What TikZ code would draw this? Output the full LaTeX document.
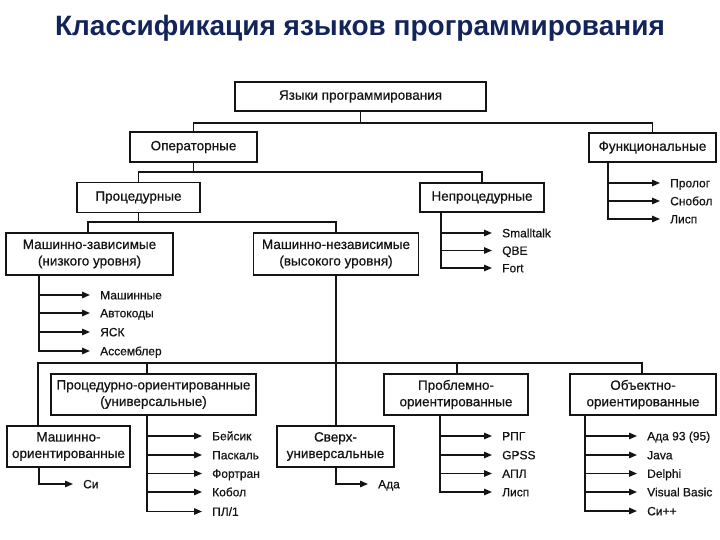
\documentclass[tikz,border=0pt]{standalone}
\usepackage{fontspec}
\setmainfont{Liberation Sans}
\newfontfamily\heavy[FakeBold=0.6]{Liberation Sans}
\usetikzlibrary{arrows.meta}
\definecolor{titleblue}{HTML}{13245A}
\definecolor{ink}{HTML}{141414}
\begin{document}
\begin{tikzpicture}[x=1pt,y=-1pt,
  box/.style={draw=ink, line width=1.4pt, inner sep=0pt, align=center,
    font=\heavy\fontsize{13.5}{16.5}\selectfont, text=ink},
  item/.style={anchor=west, inner xsep=10pt, inner ysep=0pt, text height=8.6pt,
    text depth=0pt, font=\heavy\fontsize{12}{14}\selectfont, text=ink},
  conn/.style={draw=ink, line width=1.4pt},
  arr/.style={conn, -{Triangle[length=8pt,width=6.5pt]}}]
\useasboundingbox[fill=white] (0,0) rectangle (720,540);

\node[font=\bfseries\fontsize{28}{32}\selectfont, text=titleblue] (title) at (360,28.5) {Классификация языков программирования};

% boxes
\node[box, minimum width=251pt, minimum height=29pt] (root) at (360.5,96.5) {Языки программирования};
\node[box, minimum width=127pt, minimum height=30pt] (op) at (193.5,147) {Операторные};
\node[box, minimum width=127pt, minimum height=29pt] (fn) at (652.5,147.5) {Функциональные};
\node[box, minimum width=123pt, minimum height=30pt] (proc) at (138.5,197.5) {Процедурные};
\node[box, minimum width=124pt, minimum height=29pt] (nproc) at (482,197.5) {Непроцедурные};
\node[box, minimum width=167pt, minimum height=42pt] (mz) at (89.5,254) {Машинно-зависимые\\(низкого уровня)};
\node[box, minimum width=165pt, minimum height=42pt] (mn) at (336,254) {Машинно-независимые\\(высокого уровня)};
\node[box, minimum width=205pt, minimum height=41pt] (po) at (153.5,394.5) {Процедурно-ориентированные\\(универсальные)};
\node[box, minimum width=144pt, minimum height=41pt] (pr) at (456,394.5) {Проблемно-\\ориентированные};
\node[box, minimum width=146pt, minimum height=41pt] (oo) at (643,394.5) {Объектно-\\ориентированные};
\node[box, minimum width=123pt, minimum height=41pt] (mo) at (68.5,446.5) {Машинно-\\ориентированные};
\node[box, minimum width=117pt, minimum height=41pt] (su) at (335.5,446.5) {Сверх-\\универсальные};

% tree connectors
\coordinate (b1) at (0,123);
\coordinate (b2) at (0,172);
\coordinate (b3) at (0,222);
\draw[conn] (root.south) -- (root.south |- b1);
\draw[conn] (fn.north) |- (op.north |- b1) -- (op.north);
\draw[conn] (op.south) -- (op.south |- b2);
\draw[conn] (proc.north) |- (nproc.north |- b2) -- (nproc.north);
\draw[conn] (proc.south) -- (proc.south |- b3);
\coordinate (mzt) at (88,233);
\draw[conn] (mzt) |- (mn.north |- b3) -- (mn.north);
\draw[conn] (mn.south) -- (su.north -| mn.south);
\coordinate (mot) at (38,426);
\coordinate (bus) at (38,363);
\coordinate (pot) at (147,374);
\coordinate (prt) at (457,374);
\coordinate (oot) at (642,374);
\draw[conn] (mot) -- (bus) -- (bus -| oot) -- (oot);
\draw[conn] (pot) -- (pot |- bus);
\draw[conn] (prt) -- (prt |- bus);

% list items
\node[item] (f1) at (660,183) {Пролог};
\node[item] (f2) at (660,201) {Снобол};
\node[item] (f3) at (660,219) {Лисп};
\coordinate (fnt) at (608,162);
\foreach \i in {f1,f2,f3} \draw[arr] (fnt) |- (\i.west);

\node[item] (n1) at (492,233) {Smalltalk};
\node[item] (n2) at (492,250.5) {QBE};
\node[item] (n3) at (492,268) {Fort};
\coordinate (nt) at (441,212);
\foreach \i in {n1,n2,n3} \draw[arr] (nt) |- (\i.west);

\node[item] (m1) at (90,295) {Машинные};
\node[item] (m2) at (90,313) {Автокоды};
\node[item] (m3) at (90,332) {ЯСК};
\node[item] (m4) at (90,351) {Ассемблер};
\coordinate (mzb) at (39,275);
\foreach \i in {m1,m2,m3,m4} \draw[arr] (mzb) |- (\i.west);

\node[item] (c1) at (73,484) {Си};
\coordinate (mob) at (39,467);
\draw[arr] (mob) |- (c1.west);

\node[item] (p1) at (202,436) {Бейсик};
\node[item] (p2) at (202,455) {Паскаль};
\node[item] (p3) at (202,473.5) {Фортран};
\node[item] (p4) at (202,492) {Кобол};
\node[item] (p5) at (202,511.5) {ПЛ/1};
\coordinate (pob) at (147,415);
\foreach \i in {p1,p2,p3,p4,p5} \draw[arr] (pob) |- (\i.west);

\node[item] (s1) at (368,484) {Ада};
\coordinate (sub) at (336,467);
\draw[arr] (sub) |- (s1.west);

\node[item] (r1) at (492,436) {РПГ};
\node[item] (r2) at (492,455) {GPSS};
\node[item] (r3) at (492,473.5) {АПЛ};
\node[item] (r4) at (492,492) {Лисп};
\coordinate (prb) at (440,415);
\foreach \i in {r1,r2,r3,r4} \draw[arr] (prb) |- (\i.west);

\node[item] (o1) at (637,436) {Ада 93 (95)};
\node[item] (o2) at (637,455) {Java};
\node[item] (o3) at (637,473.5) {Delphi};
\node[item] (o4) at (637,492) {Visual Basic};
\node[item] (o5) at (637,511) {Си++};
\coordinate (oob) at (585,415);
\foreach \i in {o1,o2,o3,o4,o5} \draw[arr] (oob) |- (\i.west);
\end{tikzpicture}
\end{document}
